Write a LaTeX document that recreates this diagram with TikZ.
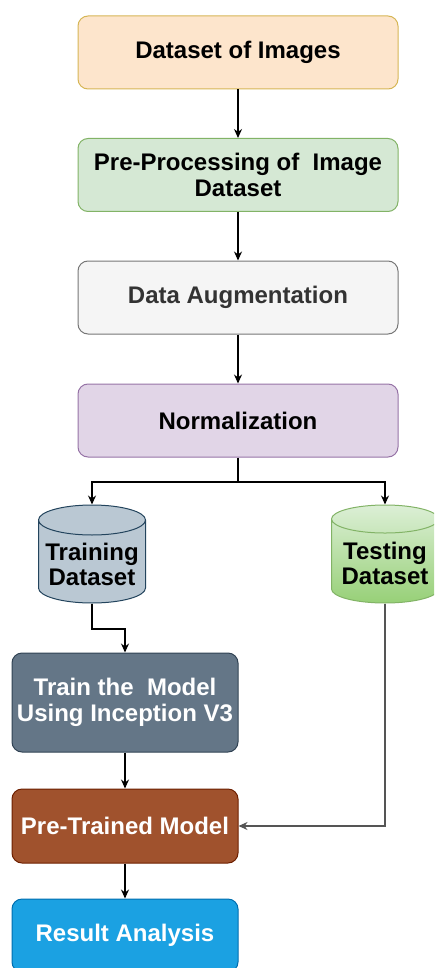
\documentclass[tikz,border=0pt]{standalone}
\usepackage{fontspec}
\setmainfont{Liberation Sans}
\usepackage{xcolor}
\usetikzlibrary{shapes.geometric,arrows.meta}

\definecolor{imgfill}{HTML}{FDE5CC}
\definecolor{imgdraw}{HTML}{D6B656}
\definecolor{prepfill}{HTML}{D5E8D4}
\definecolor{prepdraw}{HTML}{82B366}
\definecolor{augfill}{HTML}{F5F5F5}
\definecolor{augdraw}{HTML}{777777}
\definecolor{augtext}{HTML}{333333}
\definecolor{normfill}{HTML}{E1D5E7}
\definecolor{normdraw}{HTML}{9673A6}
\definecolor{trainfill}{HTML}{BAC8D3}
\definecolor{traindraw}{HTML}{23445D}
\definecolor{testtop}{HTML}{DCEFD6}
\definecolor{testbot}{HTML}{97D077}
\definecolor{modelfill}{HTML}{647687}
\definecolor{modeldraw}{HTML}{314354}
\definecolor{prefill}{HTML}{A0522D}
\definecolor{predraw}{HTML}{6D1F00}
\definecolor{resfill}{HTML}{1BA1E2}
\definecolor{resdraw}{HTML}{006EAF}
\definecolor{linegray}{HTML}{555555}

\begin{document}
\begin{tikzpicture}[x=1pt, y=-1pt, line width=1.3pt,
    box/.style={draw, line width=1pt, rounded corners=10pt, minimum width=320pt,
        minimum height=73pt, align=center, font=\fontsize{24}{26}\selectfont\bfseries},
    smallbox/.style={box, minimum width=226pt, text=white},
    db/.style={cylinder, shape border rotate=90, aspect=0.3, draw, line width=1pt,
        minimum width=107pt, minimum height=98pt, align=center, anchor=shape center,
        font=\fontsize{24}{25}\selectfont\bfseries},
    arr/.style={-{Stealth[length=9pt,width=8pt]}}]
    \useasboundingbox (0,0) rectangle (434,968);
    \clip (0,0) rectangle (434,968);
    \node[box, fill=imgfill, draw=imgdraw] (images) at (238,52.5) {Dataset of Images};
    \node[box, fill=prepfill, draw=prepdraw] (prep) at (238,175) {Pre-Processing of\ \ Image\\Dataset};
    \node[box, fill=augfill, draw=augdraw, text=augtext] (aug) at (238,297.5) {Data Augmentation};
    \node[box, fill=normfill, draw=normdraw] (norm) at (238,420.5) {Normalization};
    \node[db, fill=trainfill, draw=traindraw] (train) at (92,554) {Training\\Dataset};
    \node[db, top color=testtop, bottom color=testbot, draw=prepdraw] (test) at (385,554) {Testing\\Dataset};
    \node[smallbox, fill=modelfill, draw=modeldraw, minimum height=99pt] (model) at (125,702.5) {Train the\ \ Model\\Using Inception V3};
    \node[smallbox, fill=prefill, draw=predraw, minimum height=74pt] (pre) at (125,826) {Pre-Trained Model};
    \node[smallbox, fill=resfill, draw=resdraw] (result) at (125,935.5) {Result Analysis};
    \coordinate (split) at (238,482);
    \coordinate (tbend) at (92,629);
    \draw[arr] (images) -- (prep);
    \draw[arr] (prep) -- (aug);
    \draw[arr] (aug) -- (norm);
    \draw[arr] (norm.south) -- (split) -| (train.north);
    \draw[arr] (split) -| (test.north);
    \draw[arr] (train.south) -- (tbend) -| (model.north);
    \draw[arr] (model) -- (pre);
    \draw[arr] (pre) -- (result);
    \draw[arr, draw=linegray] (test.south) |- (pre.east);
\end{tikzpicture}
\end{document}
